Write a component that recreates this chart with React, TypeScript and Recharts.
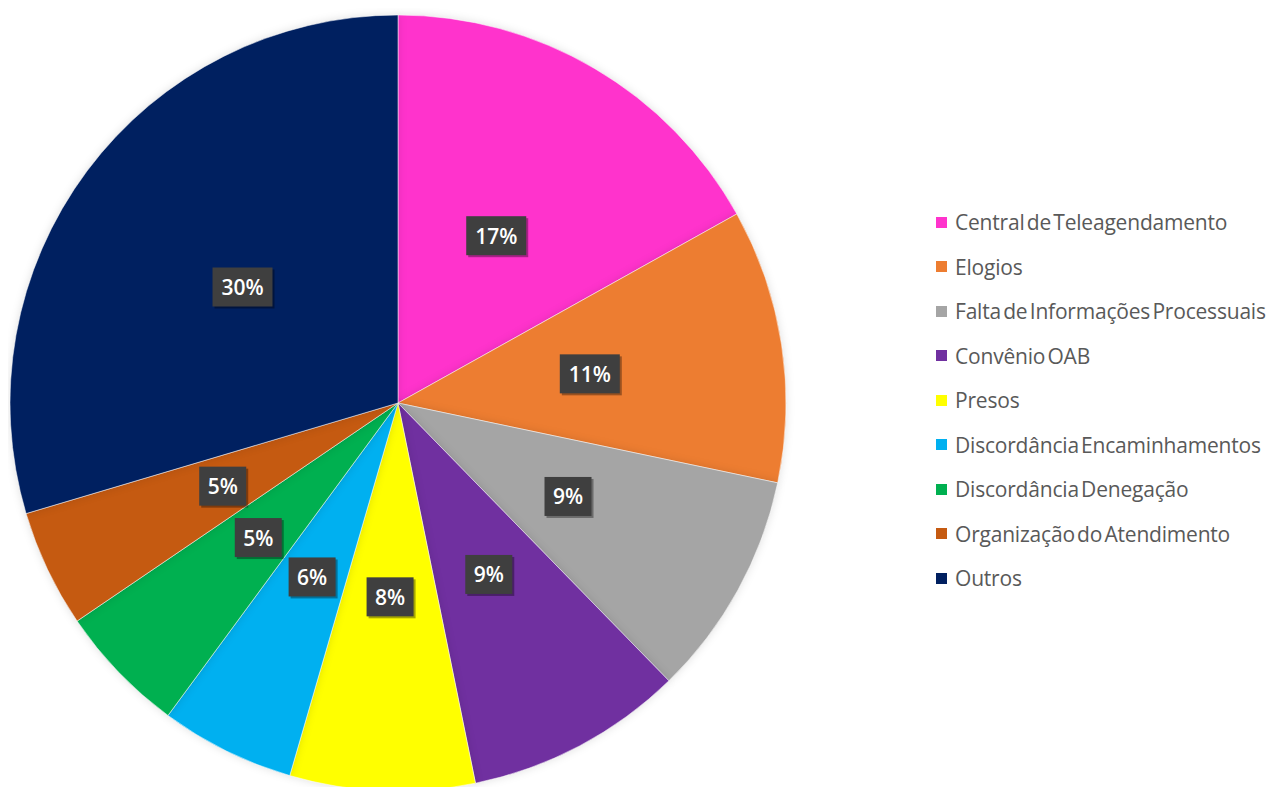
import React from "react";
import { PieChart, Pie, Cell, Legend } from "recharts";

const categories = [
  "Central de Teleagendamento",
  "Elogios",
  "Falta de Informações Processuais",
  "Convênio OAB",
  "Presos",
  "Discordância Encaminhamentos",
  "Discordância Denegação",
  "Organização do Atendimento",
  "Outros",
];
const shares = [16.9, 11.4, 9.4, 9.1, 7.7, 5.6, 5.4, 4.9, 29.6];
const colors = [
  "#FF33CC",
  "#ED7D31",
  "#A5A5A5",
  "#7030A0",
  "#FFFF00",
  "#00B0F0",
  "#00B050",
  "#C55A11",
  "#002060",
];

const data = categories.map((name, i) => ({ name, value: shares[i] }));
const RAD = Math.PI / 180;

const renderLabel = (props: any) => {
  const { cx, cy, midAngle, outerRadius, percent } = props;
  const r = outerRadius * 0.5;
  const x = cx + r * Math.cos(-midAngle * RAD);
  const y = cy + r * Math.sin(-midAngle * RAD);
  const text = `${Math.round(percent * 100)}%`;
  const w = text.length === 3 ? 60 : 47;
  const h = 39;
  return (
    <g>
      <rect x={x - w / 2 + 2} y={y - h / 2 + 2} width={w} height={h} fill="rgba(0,0,0,0.35)" />
      <rect x={x - w / 2} y={y - h / 2} width={w} height={h} fill="#3F3F3F" />
      <text
        x={x}
        y={y}
        fill="#FFFFFF"
        textAnchor="middle"
        dominantBaseline="central"
        style={{ fontFamily: "'Open Sans', sans-serif", fontSize: 21, fontWeight: 600 }}
      >
        {text}
      </text>
    </g>
  );
};

const renderLegend = (props: any) => {
  const payload = [...(props.payload || [])].sort(
    (a: any, b: any) => categories.indexOf(a.value) - categories.indexOf(b.value)
  );
  return (
    <div style={{ fontFamily: "'Open Sans', sans-serif" }}>
      {payload.map((entry: any, i: number) => (
        <div
          key={i}
          style={{
            height: 44.5,
            display: "flex",
            alignItems: "center",
            whiteSpace: "nowrap",
          }}
        >
          <span
            style={{
              display: "inline-block",
              width: 11,
              height: 11,
              background: entry.color,
              marginRight: 8,
              flexShrink: 0,
            }}
          />
          <span style={{ color: "#595959", fontSize: 21, wordSpacing: -3, letterSpacing: -0.2 }}>
            {entry.value}
          </span>
        </div>
      ))}
    </div>
  );
};

export default function App() {
  return (
    <div style={{ width: 1265, height: 779, background: "#ffffff" }}>
      <style>{`.recharts-pie-sector { filter: drop-shadow(0 0 4px rgba(0,0,0,0.12)); }`}</style>
      <PieChart width={1265} height={779} margin={{ top: 0, right: 0, bottom: 0, left: 0 }}>
        <Pie
          data={data}
          dataKey="value"
          nameKey="name"
          cx={390}
          cy={395}
          outerRadius={388}
          startAngle={90}
          endAngle={-270}
          label={renderLabel}
          labelLine={false}
          stroke="rgba(255,255,255,0.5)"
          strokeWidth={1}
          isAnimationActive={false}
        >
          {data.map((d, i) => (
            <Cell key={d.name} fill={colors[i]} />
          ))}
        </Pie>
        <Legend
          layout="vertical"
          content={renderLegend}
          wrapperStyle={{ position: "absolute", left: 928, top: 192, width: 337 }}
        />
      </PieChart>
    </div>
  );
}
